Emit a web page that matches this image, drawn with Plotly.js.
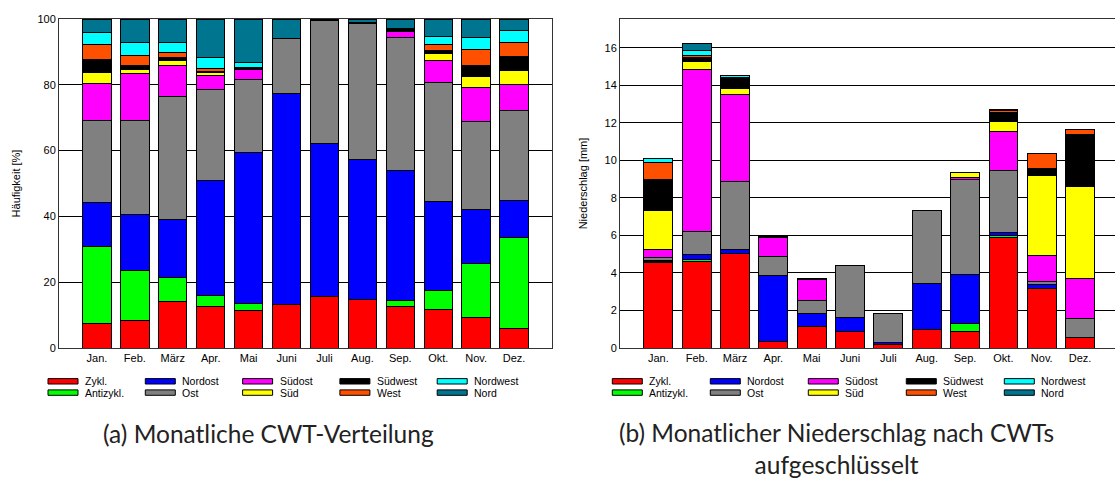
<!DOCTYPE html>
<html>
<head>
<meta charset="utf-8">
<script src="https://cdn.plot.ly/plotly-3.0.1.min.js"></script>
<style>
html,body{margin:0;padding:0;background:#fff;overflow:hidden;width:1115px;height:478px;}
#chart{width:1130px;height:478px;}
</style>
</head>
<body>
<div id="chart"></div>
<script>
// ---- data ----
const months = ["Jan.","Feb.","März","Apr.","Mai","Juni","Juli","Aug.","Sep.","Okt.","Nov.","Dez."];
const typeNames = ["Zykl.","Antizykl.","Nordost","Ost","Südost","Süd","Südwest","West","Nordwest","Nord"];
const typeColors = ["#ff0000","#00ff00","#0000ff","#808080","#ff00ff","#ffff00","#000000","#ff5000","#00ffff","#00758f"];

// (a) Häufigkeit [%] per CWT and month
const freqZykl     = [7.6, 8.3, 14.2, 12.7, 11.5, 13.1, 15.7, 14.7, 12.5, 11.7, 9.4, 5.9];
const freqAntizykl = [23.4, 15.4, 7.1, 3.2, 2.0, 0, 0, 0, 2.0, 5.7, 16.3, 27.6];
const freqNordost  = [13.2, 16.9, 17.8, 35.0, 45.9, 64.2, 46.5, 42.7, 39.4, 27.2, 16.3, 11.3];
const freqOst      = [25.1, 28.4, 37.3, 27.8, 22.1, 16.9, 37.4, 41.2, 40.6, 36.1, 26.7, 27.3];
const freqSuedost  = [11.2, 14.4, 9.4, 4.2, 3.3, 0, 0, 0, 1.8, 6.6, 10.4, 8.0];
const freqSued     = [3.1, 1.2, 1.7, 0.7, 0, 0, 0, 0, 0, 2.1, 3.5, 4.2];
const freqSuedwest = [4.2, 1.3, 0.8, 0.3, 0.5, 0, 0, 0.3, 0.9, 0.9, 3.4, 4.2];
const freqWest     = [4.6, 2.9, 1.6, 1.0, 0, 0, 0, 0, 0, 1.9, 4.7, 4.3];
const freqNordwest = [3.5, 4.1, 3.1, 3.5, 1.6, 0, 0, 0, 0, 2.5, 3.8, 3.8];
const freqNord     = [4.1, 7.1, 7.0, 11.6, 13.1, 5.8, 0.4, 1.1, 2.8, 5.3, 5.5, 3.4];

// (b) Niederschlag [mm] per CWT and month
const rainZykl     = [4.55, 4.62, 5.06, 0.37, 1.15, 0.87, 0.20, 0.98, 0.87, 5.88, 3.16, 0.55];
const rainAntizykl = [0.08, 0.09, 0, 0, 0, 0, 0, 0, 0.43, 0.09, 0, 0];
const rainNordost  = [0.05, 0.28, 0.21, 3.50, 0.70, 0.75, 0.10, 2.45, 2.61, 0.19, 0.20, 0];
const rainOst      = [0.15, 1.23, 3.61, 1.00, 0.69, 2.80, 1.56, 3.87, 5.06, 3.32, 0.21, 1.00];
const rainSuedost  = [0.43, 8.61, 4.62, 1.01, 1.10, 0, 0, 0, 0.10, 2.05, 1.35, 2.13];
const rainSued     = [2.07, 0.41, 0.32, 0, 0, 0, 0, 0, 0.27, 0.53, 4.26, 4.90];
const rainSuedwest = [1.64, 0.23, 0.56, 0.07, 0.05, 0, 0, 0, 0, 0.48, 0.36, 2.77];
const rainWest     = [0.89, 0.09, 0.05, 0, 0, 0, 0, 0, 0, 0.12, 0.80, 0.30];
const rainNordwest = [0.24, 0.30, 0.10, 0, 0, 0, 0, 0, 0, 0, 0, 0];
const rainNord     = [0.02, 0.35, 0, 0, 0, 0, 0, 0, 0, 0.04, 0, 0];

const freqSeries = [freqZykl,freqAntizykl,freqNordost,freqOst,freqSuedost,freqSued,freqSuedwest,freqWest,freqNordwest,freqNord];
const rainSeries = [rainZykl,rainAntizykl,rainNordost,rainOst,rainSuedost,rainSued,rainSuedwest,rainWest,rainNordwest,rainNord];

const captionA = "(a) Monatliche CWT-Verteilung";
const captionB = "(b) Monatlicher Niederschlag nach CWTs<br>aufgeschlüsselt";

// ---- layout helpers ----
const W = 1130, H = 478;
const px = x => x / W;
const py = y => 1 - y / H;
const FONT = "Liberation Sans, Arial, Helvetica, sans-serif";

const traces = [];
typeNames.forEach((n, i) => {
  traces.push({type:"bar", x: months, y: freqSeries[i], name:n, xaxis:"x", yaxis:"y",
    marker:{color:typeColors[i], line:{color:"#000", width:1}}, width:0.75, showlegend:false, hoverinfo:"y+name"});
});
typeNames.forEach((n, i) => {
  traces.push({type:"bar", x: months, y: rainSeries[i], name:n, xaxis:"x2", yaxis:"y2",
    marker:{color:typeColors[i], line:{color:"#000", width:1}}, width:0.75, showlegend:false, hoverinfo:"y+name"});
});

const shapes = [], annotations = [];
function addLegend(x0, step) {
  typeNames.forEach((n, i) => {
    const col = Math.floor(i / 2), row = i % 2;
    const sx = x0 + col * step;
    const cy = 381.3 + row * 11.3;
    shapes.push({type:"rect", xref:"paper", yref:"paper",
      x0: px(sx), x1: px(sx + 30), y0: py(cy + 2.7), y1: py(cy - 2.7),
      fillcolor: typeColors[i], line:{color:"#000", width:1}});
    annotations.push({xref:"paper", yref:"paper", x: px(sx + 35), y: py(cy),
      xanchor:"left", yanchor:"middle", text:n, showarrow:false,
      font:{family:FONT, size:10.5, color:"#000"}});
  });
}
addLegend(48, 97.3);
addLegend(612.3, 98);

annotations.push({xref:"paper", yref:"paper", x: px(268), y: py(433), xanchor:"center", yanchor:"middle",
  text: captionA, showarrow:false, font:{family:"Lato, sans-serif", size:24.5, color:"#222"}});
annotations.push({xref:"paper", yref:"paper", x: px(836), y: py(448), xanchor:"center", yanchor:"middle",
  text: captionB, showarrow:false, align:"center", font:{family:"Lato, sans-serif", size:24.5, color:"#222"}});

const axisCommon = {showline:true, mirror:true, linecolor:"#333", linewidth:1, ticks:"", zeroline:false,
  tickfont:{family:FONT, size:11, color:"#000"}};

const layout = {
  width: W, height: H, margin:{l:0, r:0, t:0, b:0},
  paper_bgcolor:"#fff", plot_bgcolor:"#fff",
  barmode:"stack", bargap:0.25, showlegend:false,
  xaxis: Object.assign({}, axisCommon, {domain:[px(59), px(552)], anchor:"y", type:"category",
    range:[-1, 12], showgrid:false}),
  yaxis: Object.assign({}, axisCommon, {domain:[py(348), py(19)], anchor:"x", range:[0, 100], dtick:20,
    showgrid:true, gridcolor:"#000", gridwidth:1,
    title:{text:"Häufigkeit [%]", standoff:14, font:{family:FONT, size:11, color:"#000"}}}),
  xaxis2: Object.assign({}, axisCommon, {domain:[px(620), px(1118.4)], anchor:"y2", type:"category",
    range:[-1, 12], showgrid:false}),
  yaxis2: Object.assign({}, axisCommon, {domain:[py(348), py(19)], anchor:"x2", range:[0, 17.53], dtick:2,
    showgrid:true, gridcolor:"#000", gridwidth:1,
    title:{text:"Niederschlag [mm]", standoff:14, font:{family:FONT, size:11, color:"#000"}}}),
  shapes: shapes, annotations: annotations
};

Plotly.newPlot("chart", traces, layout, {staticPlot:true, displayModeBar:false});
</script>
</body>
</html>
